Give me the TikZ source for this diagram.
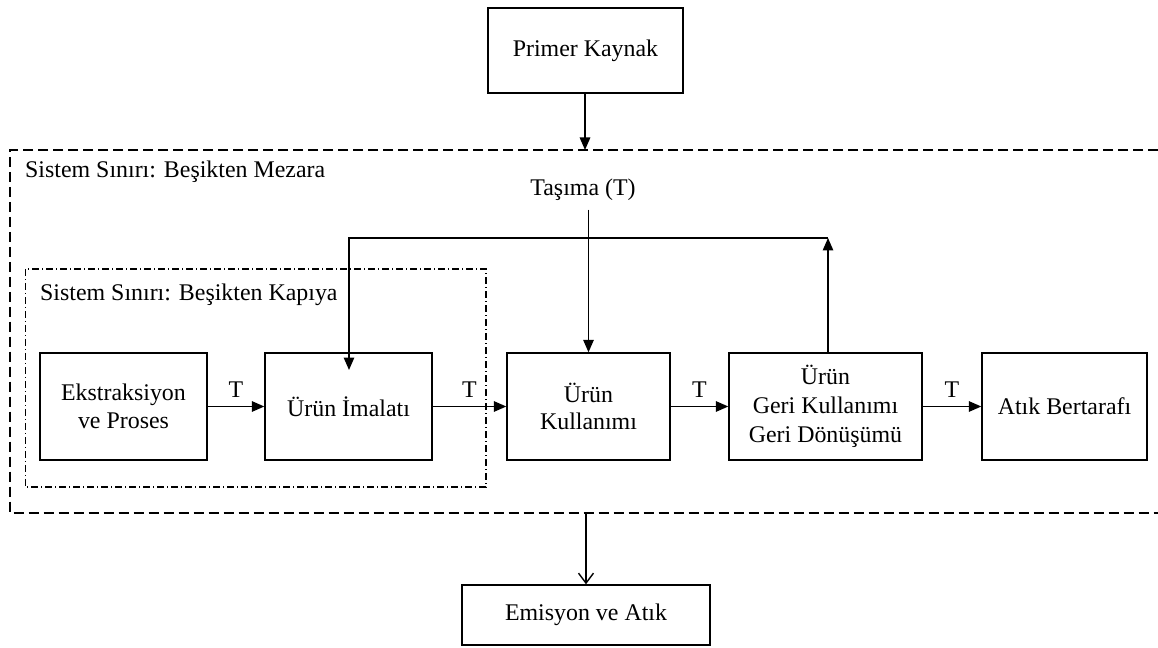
\documentclass[tikz,border=0pt]{standalone}
\usepackage{fontspec}
\setmainfont{Liberation Serif}
\usetikzlibrary{arrows.meta}
\begin{document}
\begin{tikzpicture}[x=0.02cm,y=-0.02cm,
  font=\fontsize{13.6pt}{15.6pt}\selectfont,
  box/.style={draw, line width=0.8pt, inner sep=0pt, align=center},
  link/.style={line width=0.8pt, -{Triangle[length=0.25cm,width=0.21cm]}},
  openlink/.style={line width=0.8pt, -{Straight Barb[length=0.2cm,width=0.3cm]}},
  outerline/.style={line width=0.8pt, dash pattern=on 0.2cm off 0.1cm},
  innerline/.style={line width=0.7pt, dash pattern=on 0.14cm off 0.06cm on 0.02cm off 0.06cm},
  tlabel/.style={above, inner sep=5pt}]
\useasboundingbox (0,0) rectangle (1158,648);

% system boundaries
\draw[outerline] (1158,150) -- (10,150) -- (10,513) -- (1158,513);
\draw[innerline] (25.5,269) rectangle (486,487);
\node[anchor=west] (mezara) at (19,172) {Sistem Sınırı: Beşikten Mezara};
\node[anchor=west] (kapiya) at (34,295) {Sistem Sınırı: Beşikten Kapıya};

% process boxes
\node[box, minimum width=3.9cm, minimum height=1.7cm] (prim) at (585.5,50.5) {Primer Kaynak};
\node[box, minimum width=3.34cm, minimum height=2.14cm] (ext) at (123.5,406.5) {Ekstraksiyon\\ve Proses};
\node[box, minimum width=3.34cm, minimum height=2.14cm] (iml) at (348.5,406.5) {Ürün İmalatı};
\node[box, minimum width=3.26cm, minimum height=2.14cm] (kul) at (588.5,406.5) {Ürün\\Kullanımı};
\node[box, minimum width=3.86cm, minimum height=2.14cm, font=\fontsize{13.6pt}{16.4pt}\selectfont] (geri) at (825.5,406.5) {Ürün\\Geri Kullanımı\\Geri Dönüşümü};
\node[box, minimum width=3.3cm, minimum height=2.14cm] (atik) at (1064.5,406.5) {Atık Bertarafı};
\node[box, minimum width=4.96cm, minimum height=1.2cm] (emis) at (586,615) {Emisyon ve Atık};
\node (tasima) at (583,190) {Taşıma (T)};

% boundary points
\coordinate (topin) at (585,150);
\coordinate (botout) at (586,513);
\coordinate (fbR) at (828,238);
\coordinate (fbL) at (349,238);
\coordinate (fbEnd) at (349,370);

% connectors
\draw[link] (prim.south -| topin) -- (topin);
\draw[link] ([yshift=-0.05cm]tasima.south -| kul.north) -- (kul.north);
\draw[link] (ext.east) -- node[tlabel] {T} (iml.west);
\draw[link] (iml.east) -- node[tlabel] {T} (kul.west);
\draw[link] (kul.east) -- node[tlabel] {T} (geri.west);
\draw[link] (geri.east) -- node[tlabel] {T} (atik.west);
\draw[link] (geri.north -| fbR) -- (fbR);
\draw[link] (fbR) -- (fbL) -- (fbEnd);
\draw[openlink] (botout) -- (emis.north -| botout);
\end{tikzpicture}
\end{document}
